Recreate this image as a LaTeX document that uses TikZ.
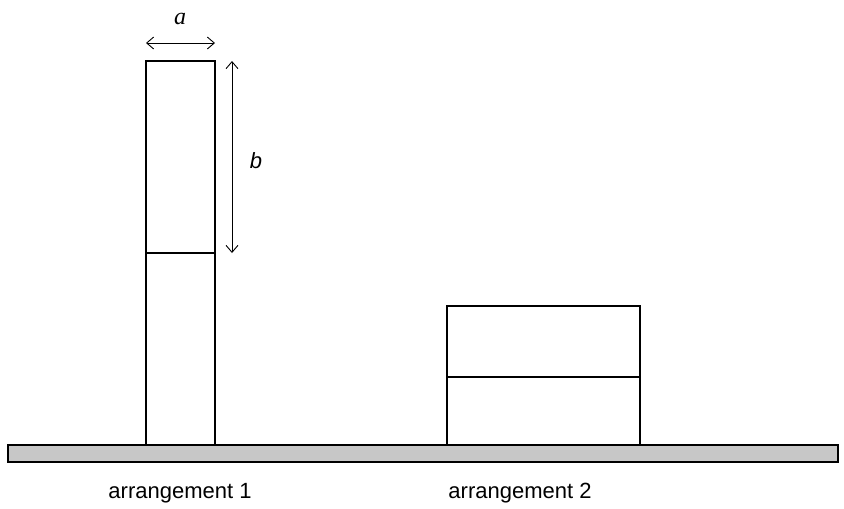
\documentclass[tikz,border=0pt]{standalone}
\usepackage{fontspec}
\setmainfont{Liberation Sans}
\newfontfamily\serifit{Liberation Serif}
\usetikzlibrary{arrows.meta}
\begin{document}
\begin{tikzpicture}[x=1pt,y=-1pt,
  blk/.style={draw=black,line width=2.2pt,fill=white},
  dim/.style={line width=0.9pt,{Straight Barb[length=7pt,width=12pt]}-{Straight Barb[length=7pt,width=12pt]}},
  lbl/.style={font=\fontsize{22}{26}\selectfont}]
\useasboundingbox (0,0) rectangle (844,509);
\draw[fill=black!22,line width=1.5pt] (8,445) rectangle (838,462);
\node[blk,minimum width=69pt,minimum height=192pt,inner sep=0pt] (t1) at (180.5,157) {};
\node[blk,minimum width=69pt,minimum height=192pt,inner sep=0pt] (t2) at (180.5,349) {};
\node[blk,minimum width=193pt,minimum height=71pt,inner sep=0pt] (s1) at (543.5,341.5) {};
\node[blk,minimum width=193pt,minimum height=68pt,inner sep=0pt] (s2) at (543.5,411) {};
\coordinate (a1) at (146,43); \coordinate (a2) at (215,43);
\coordinate (b1) at (232,61); \coordinate (b2) at (232,253);
\draw[dim] (a1) -- (a2);
\draw[dim] (b1) -- (b2);
\node[font=\serifit\itshape\fontsize{24}{28}\selectfont] (la) at (180,19) {a};
\node[lbl,font=\itshape\fontsize{22}{26}\selectfont] (lb) at (256,161) {b};
\node[lbl] (l1) at (180,493) {arrangement 1};
\node[lbl] (l2) at (520,493) {arrangement 2};
\end{tikzpicture}
\end{document}
